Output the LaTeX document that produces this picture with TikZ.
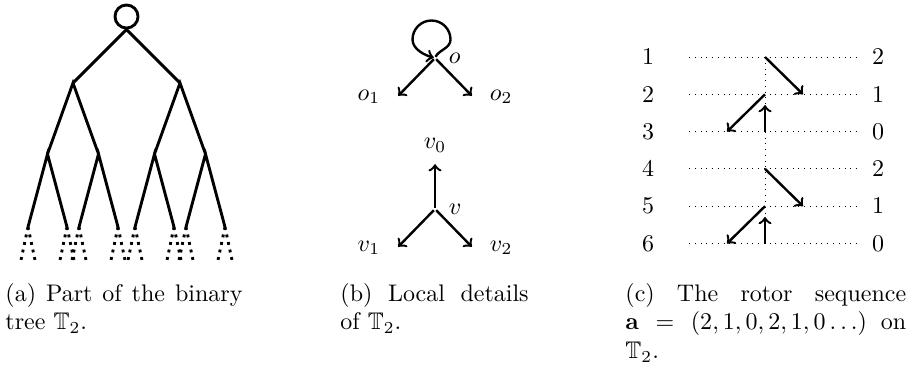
\documentclass[tikz,border=0pt]{standalone}
\usepackage{amsmath,amssymb}
\usetikzlibrary{positioning}
\tolerance=10000
\hyphenpenalty=10000

\begin{document}
\begin{tikzpicture}[x=0.41667pt,y=0.41667pt,
  vertex/.style={inner sep=0pt,outer sep=0pt},
  arr/.style={line width=1pt,->},
  subcap/.style={anchor=north west,inner sep=0pt,align=justify}]
\useasboundingbox (0,0) rectangle (908,-369);
% (a) the tree
\node[draw,circle,very thick,minimum size=9.6pt,inner sep=0pt] (top) at (126.5,-16.5) {};
\foreach \n/\x in {a1/73,a2/180} \coordinate (\n) at (\x,-83);
\foreach \n/\x in {b1/47.5,b2/98.5,b3/154.5,b4/205.5} \coordinate (\n) at (\x,-154);
\foreach \n/\x in {c1/28,c2/67,c3/79,c4/118,c5/135,c6/174,c7/186,c8/225} \coordinate (\n) at (\x,-227);
\draw [very thick] (a1) -- (top.south) -- (a2);
\draw [very thick] (b1) -- (a1) -- (b2) (b3) -- (a2) -- (b4);
\foreach \p/\l/\r in {b1/c1/c2,b2/c3/c4,b3/c5/c6,b4/c7/c8}
  \draw [very thick] (\l) -- (\p) -- (\r);
\foreach \i in {1,...,8}{
  \path (c\i) ++(-7,-33) coordinate (d\i l) (c\i) ++(7,-33) coordinate (d\i r);
  \draw [very thick,dotted] (c\i) -- (d\i l) (c\i) -- (d\i r);
}
% (b) local details
\node[vertex] (o) at (435,-58) {};
\node[vertex] (o1) at (397,-97) {};
\node[vertex] (o2) at (473,-97) {};
\draw [arr] (o) -- (o1);
\draw [arr] (o) -- (o2);
\draw [arr] (o) .. controls +(65:9) and +(-90:9) .. ++(15.5,18.5)
  arc[start angle=0,end angle=180,radius=19]
  .. controls +(-90:10) and +(165:10) .. (o);
\node[right=1.7pt of o] (olab) {$o$};
\node[left=3pt of o1] (o1lab) {$o_1$};
\node[right=3pt of o2] (o2lab) {$o_2$};
\node[vertex] (v) at (435,-209) {};
\node[vertex] (v0) at (435,-163) {};
\node[vertex] (v1) at (397,-248) {};
\node[vertex] (v2) at (473,-248) {};
\draw [arr] (v) -- (v0);
\draw [arr] (v) -- (v1);
\draw [arr] (v) -- (v2);
\node[right=1.7pt of v] (vlab) {$v$};
\node[above=0.5pt of v0] (v0lab) {$v_0$};
\node[left=3pt of v1] (v1lab) {$v_1$};
\node[right=3pt of v2] (v2lab) {$v_2$};
% (c) rotor sequence
\foreach \k/\d in {1/2,2/1,3/0,4/2,5/1,6/0}{
  \pgfmathsetmacro\y{-57-37.3*(\k-1)}
  \node (n\k) at (648,\y) {$\k$};
  \node (s\k) at (878,\y) {$\d$};
  \coordinate (l\k) at (689,\y);
  \coordinate (m\k) at (765,\y);
  \coordinate (r\k) at (858,\y);
  \coordinate (p\k) at (727,\y);
  \coordinate (q\k) at (803,\y);
  \draw [dotted] (l\k) -- (r\k);
}
\draw [dotted] (m1) -- (m6);
\foreach \a/\b/\c in {1/2/3,4/5/6}{
  \draw [arr] (m\a) -- (q\b);
  \draw [arr] (m\b) -- (p\c);
  \draw [arr,shorten >=4.5pt] (m\c) -- (m\b);
}
% captions
\node[subcap,text width=98.75pt] (capa) at (5,-282.7) {(a) Part of the binary tree $\mathbb{T}_2$.};
\node[subcap,text width=78.4pt] (capb) at (340,-282.7) {(b) Local details of $\mathbb{T}_2$.};
\node[subcap,text width=117pt] (capc) at (625,-282.7) {(c) The rotor sequence\linebreak $\mathbf{a}=(2,1,0,2,1,0\ldots)$ on\linebreak $\mathbb{T}_2$.};
\end{tikzpicture}
\end{document}
